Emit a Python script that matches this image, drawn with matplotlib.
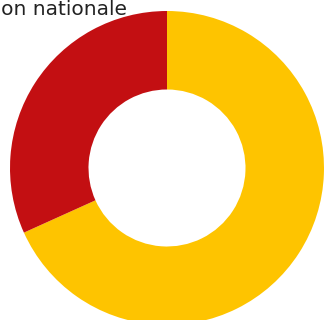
import matplotlib.pyplot as plt

# share of each source in the ring
labels = ["Autres", "Import"]
shares = [68.25, 31.75]
colors = ["#FEC400", "#C30F12"]
title = "Production nationale"

W, H = 324, 320
fig = plt.figure(figsize=(W / 100, H / 100), dpi=100)
ax = fig.add_axes([0, 0, 1, 1])
ax.set_xlim(0, W)
ax.set_ylim(0, H)
ax.set_aspect("equal")
ax.axis("off")

outer = 157
inner = 78.5
ax.pie(shares, colors=colors, startangle=90, counterclock=False,
       radius=outer, center=(167, H - 168),
       wedgeprops=dict(width=outer - inner, linewidth=0))
ax.set_xlim(0, W)
ax.set_ylim(0, H)

ax.text(127, H - 15, title, ha="right", va="baseline",
        fontsize=14.5, color="#222222", family=["DejaVu Sans"])

fig.savefig("out.png", dpi=100)
